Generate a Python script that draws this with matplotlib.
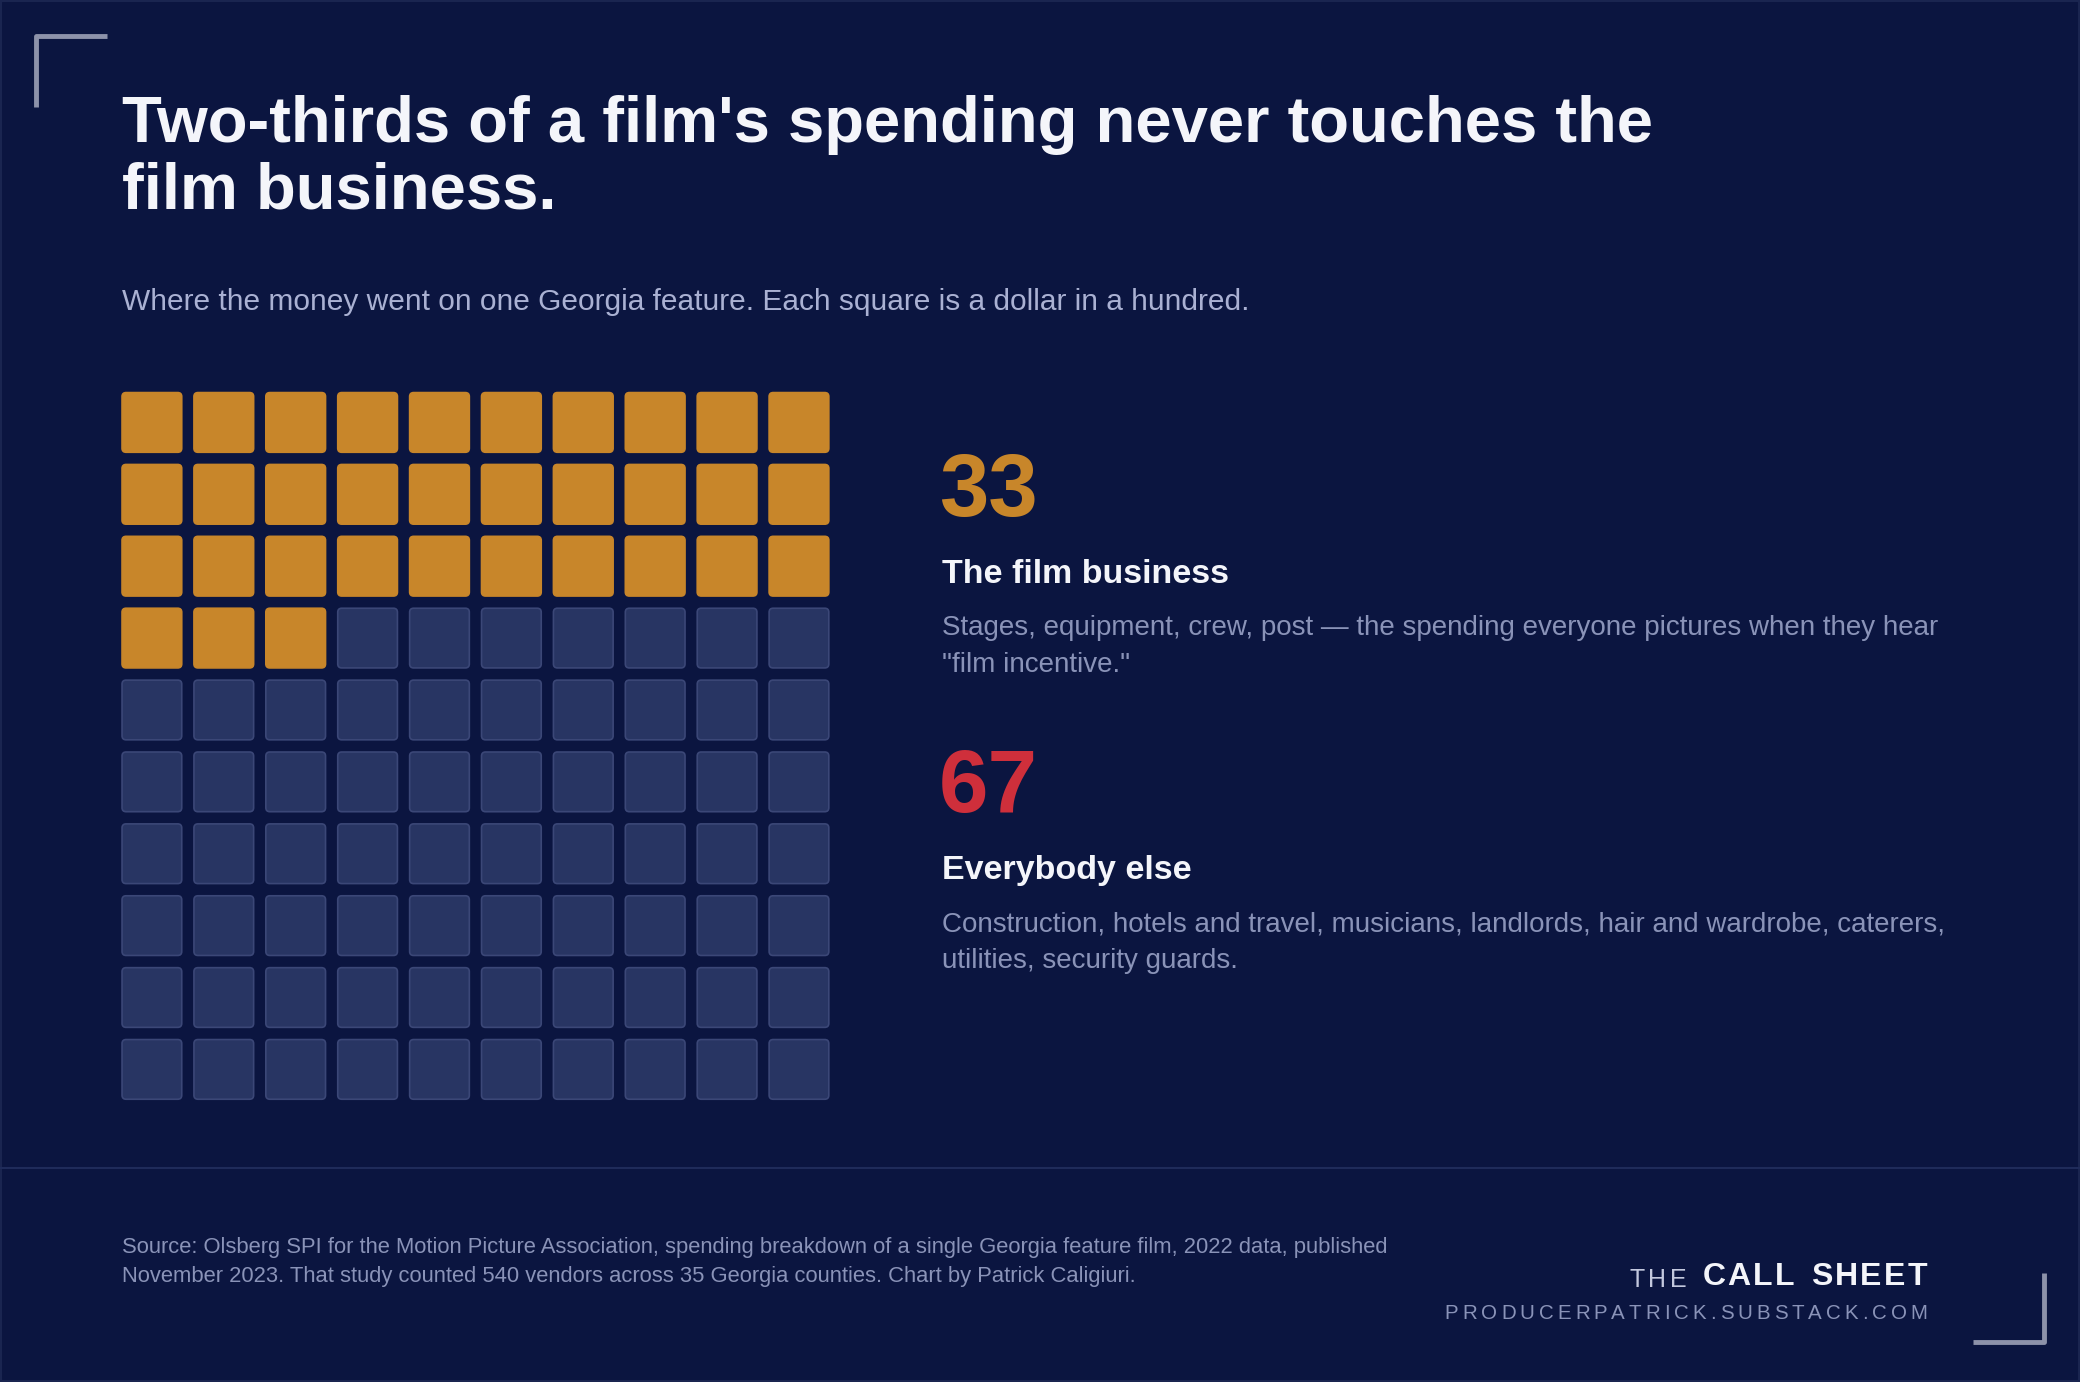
import matplotlib
matplotlib.use("Agg")
import matplotlib.pyplot as plt
from matplotlib.patches import FancyBboxPatch

# --------------------------------------------------------------------------- #
# Dados
# --------------------------------------------------------------------------- #
TITULO = "Two-thirds of a film's spending never touches the\nfilm business."
SUBTITULO = "Where the money went on one Georgia feature. Each square is a dollar in a hundred."
CATEGORIAS = ["The film business", "Everybody else"]
VALORES = [33, 67]
DESCRICOES = [
    'Stages, equipment, crew, post \u2014 the spending everyone pictures when they hear\n"film incentive."',
    "Construction, hotels and travel, musicians, landlords, hair and wardrobe, caterers,\nutilities, security guards.",
]
FONTE = ("Source: Olsberg SPI for the Motion Picture Association, spending breakdown of a single Georgia feature film, 2022 data, published\n"
         "November 2023. That study counted 540 vendors across 35 Georgia counties. Chart by Patrick Caligiuri.")

BG = "#0b1540"
CORES = ["#c8862a", "#cf2f3b"]
VAZIO, VAZIO_BORDA = "#283563", "#3b4777"
MUTED = "#8a93b8"
W, H = 1568, 1042

plt.rcParams["font.family"] = ["Liberation Sans", "DejaVu Sans"]
fig = plt.figure(figsize=(20.8, 13.82), dpi=100, facecolor=BG)
ax = fig.add_axes([0, 0, 1, 1])
ax.set_xlim(0, W); ax.set_ylim(H, 0); ax.axis("off")
ax.set_facecolor(BG)

# moldura
ax.plot([27, 27, 81], [81, 27, 27], color="#8d92aa", lw=3.5, solid_capstyle="butt")
ax.plot([1487, 1541, 1541], [1012, 1012, 960], color="#8d92aa", lw=3.5, solid_capstyle="butt")
ax.plot([0, W], [881, 881], color="#1f2b5a", lw=1.5)
ax.add_patch(plt.Rectangle((1, 1), W - 2, H - 2, fill=False, ec="#1a2550", lw=1.5))

# textos
ax.text(92, 72, TITULO, color="#f4f5fa", fontsize=47, fontweight="bold", va="top", linespacing=1.12)
ax.text(92, 228, SUBTITULO, color="#aab1d3", fontsize=21.5, va="center")

# waffle
passo, lado = 54.2, 45
for k in range(100):
    lin, col = divmod(k, 10)
    cheio = k < VALORES[0]
    ax.add_patch(FancyBboxPatch((92 + col * passo, 296 + lin * passo), lado, lado,
                                boxstyle="round,pad=0,rounding_size=3",
                                fc=CORES[0] if cheio else VAZIO,
                                ec=CORES[0] if cheio else VAZIO_BORDA, lw=1.2))

# legenda lateral
for i, y0 in enumerate([372, 595]):
    ax.text(708, y0, str(VALORES[i]), color=CORES[i], fontsize=64, fontweight="bold", va="center")
    ax.text(710, y0 + 61, CATEGORIAS[i], color="#f4f5fa", fontsize=24.5, fontweight="bold", va="center")
    ax.text(710, y0 + 92, DESCRICOES[i], color=MUTED, fontsize=20, va="top", linespacing=1.55)

ax.text(92, 933, FONTE, color=MUTED, fontsize=15.8, va="top", linespacing=1.5)


def espacado(x_dir, y, s, gap, **kw):
    """Texto com espacamento entre letras, alinhado a direita em x_dir."""
    r = fig.canvas.get_renderer()
    inv = ax.transData.inverted()
    larg = []
    for c in s:
        t = ax.text(0, 0, c if c != " " else "n", **kw)
        bb = t.get_window_extent(r)
        x0 = inv.transform((bb.x0, 0))[0]; x1 = inv.transform((bb.x1, 0))[0]
        larg.append((x1 - x0) if c != " " else (x1 - x0) * 0.6)
        t.remove()
    x = x_dir - sum(larg) - gap * (len(s) - 1)
    for c, w in zip(s, larg):
        ax.text(x, y, c, va="center", ha="left", **kw)
        x += w + gap
    return x_dir - sum(larg) - gap * (len(s) - 1)


xs = espacado(1453, 963, "CALL SHEET", 1.8, color="#f4f5fa", fontsize=23, fontweight="bold")
espacado(xs - 12, 965, "THE", 2.8, color="#c3c8de", fontsize=18)
espacado(1453, 990, "PRODUCERPATRICK.SUBSTACK.COM", 3.0, color=MUTED, fontsize=14.8)

fig.savefig("out.png", dpi=100, facecolor=BG)
